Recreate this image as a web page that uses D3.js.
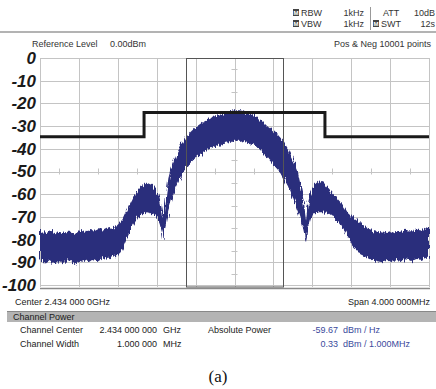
<!DOCTYPE html>
<html>
<head>
<meta charset="utf-8">
<script src="https://cdn.jsdelivr.net/npm/d3@7"></script>
<style>
  body { margin: 0; background: #fff; }
  svg { display: block; font-family: "Liberation Sans", Arial, sans-serif; }
</style>
</head>
<body>
<div id="chart"></div>
<script>
// data (frequency offset in MHz from 2.434 GHz, level in dBm)
const freqMHz = [-2.00, -1.95, -1.90, -1.85, -1.80, -1.75, -1.70, -1.65, -1.60, -1.55, -1.50, -1.45, -1.40, -1.35, -1.30, -1.25, -1.20, -1.15, -1.10, -1.05, -1.00, -0.95, -0.90, -0.85, -0.80, -0.77, -0.745, -0.732, -0.72, -0.70, -0.68, -0.65, -0.60, -0.55, -0.50, -0.45, -0.40, -0.35, -0.30, -0.25, -0.20, -0.15, -0.10, -0.05, 0.00, 0.05, 0.10, 0.15, 0.20, 0.25, 0.30, 0.35, 0.40, 0.45, 0.50, 0.55, 0.60, 0.65, 0.70, 0.72, 0.735, 0.75, 0.78, 0.82, 0.87, 0.92, 0.97, 1.02, 1.07, 1.12, 1.17, 1.22, 1.27, 1.32, 1.37, 1.42, 1.47, 1.52, 1.57, 1.62, 1.67, 1.72, 1.77, 1.82, 1.87, 1.92, 1.97, 2.00];
const upperDb = [-75.5, -77.0, -76.0, -77.5, -76.5, -77.0, -76.0, -77.5, -76.0, -76.5, -75.5, -76.0, -75.0, -75.5, -74.5, -75.0, -73.5, -71.0, -66.5, -62.0, -58.5, -56.5, -55.0, -56.0, -58.0, -61.5, -67.0, -71.0, -66.0, -59.0, -53.0, -48.0, -42.5, -38.5, -35.0, -32.5, -30.5, -29.0, -27.5, -26.5, -25.5, -25.0, -24.0, -23.5, -23.0, -23.0, -23.5, -24.5, -25.5, -27.0, -28.5, -30.5, -32.0, -34.0, -36.5, -40.0, -44.5, -50.0, -60.0, -66.0, -71.0, -65.0, -59.5, -56.0, -54.0, -55.0, -57.5, -60.0, -62.5, -65.0, -68.5, -70.5, -72.0, -73.5, -75.0, -76.0, -76.5, -77.0, -76.5, -77.0, -76.0, -76.5, -75.5, -76.5, -75.5, -76.0, -75.0, -75.5];
const lowerDb = [-88.5, -90.5, -89.0, -91.0, -89.5, -90.5, -89.0, -91.0, -90.0, -89.0, -90.0, -88.5, -89.5, -88.0, -88.5, -87.0, -87.5, -84.0, -79.0, -74.0, -70.5, -69.0, -68.0, -68.5, -70.0, -73.0, -77.0, -80.5, -76.0, -71.5, -67.5, -63.0, -56.5, -52.0, -48.5, -46.0, -44.0, -42.5, -41.0, -40.0, -39.0, -38.5, -37.5, -37.0, -36.5, -36.5, -37.0, -37.5, -38.5, -40.0, -42.0, -44.5, -47.0, -49.5, -52.5, -56.5, -62.0, -67.5, -74.0, -78.0, -81.0, -75.0, -70.5, -68.5, -68.0, -68.0, -68.5, -70.0, -72.5, -75.5, -79.0, -83.0, -85.5, -87.0, -88.0, -89.0, -89.5, -90.0, -89.0, -90.0, -89.0, -89.5, -88.5, -89.5, -88.5, -89.0, -88.0, -88.5];

// spectrum emission mask
const maskFreq = [-2, -0.93, -0.93, 0.93, 0.93, 2];
const maskDb = [-34.7, -34.7, -24, -24, -34.7, -34.7];

// channel (1 MHz wide)
const channelEdges = [-0.5, 0.5];

const yTicks = [0, -10, -20, -30, -40, -50, -60, -70, -80, -90, -100];
const xGrid = [-2, -1.6, -1.2, -0.8, -0.4, 0, 0.4, 0.8, 1.2, 1.6, 2];
const xMinor = [-1.8, -1.4, -1.0, -0.6, -0.2, 0.2, 0.6, 1.0, 1.4, 1.8];
const yMinor = [-5, -15, -25, -35, -45, -55, -65, -75, -85, -95];

const W = 436, H = 389;
const x = d3.scaleLinear().domain([-2, 2]).range([40, 429]);
const y = d3.scaleLinear().domain([0, -100]).range([58, 285]);

const svg = d3.select('#chart').append('svg').attr('width', W).attr('height', H);

// rough edge filter for the noisy trace
const defs = svg.append('defs');
const f = defs.append('filter').attr('id', 'rough')
  .attr('x', '-5%').attr('y', '-10%').attr('width', '110%').attr('height', '120%');
f.append('feTurbulence').attr('type', 'fractalNoise')
  .attr('baseFrequency', '0.9 0.08').attr('numOctaves', 2).attr('seed', 3).attr('result', 'n');
f.append('feDisplacementMap').attr('in', 'SourceGraphic').attr('in2', 'n')
  .attr('scale', 7).attr('xChannelSelector', 'B').attr('yChannelSelector', 'R');

// header
const hdr = svg.append('g').attr('font-size', 9).attr('fill', '#333');
function icon(px, py) {
  hdr.append('rect').attr('x', px).attr('y', py).attr('width', 6).attr('height', 7).attr('fill', '#444');
  hdr.append('text').attr('x', px + 3).attr('y', py + 6).attr('text-anchor', 'middle')
    .attr('font-size', 6).attr('font-weight', 'bold').attr('fill', '#fff').text('M');
}
icon(293, 9); icon(293, 20); icon(373, 20);
hdr.append('text').attr('x', 301).attr('y', 16).text('RBW');
hdr.append('text').attr('x', 301).attr('y', 27).text('VBW');
hdr.append('text').attr('x', 364).attr('y', 16).attr('text-anchor', 'end').text('1kHz');
hdr.append('text').attr('x', 364).attr('y', 27).attr('text-anchor', 'end').text('1kHz');
hdr.append('line').attr('x1', 370.5).attr('x2', 370.5).attr('y1', 7).attr('y2', 30).attr('stroke', '#999');
hdr.append('text').attr('x', 383).attr('y', 16).text('ATT');
hdr.append('text').attr('x', 381).attr('y', 27).text('SWT');
hdr.append('text').attr('x', 435).attr('y', 16).attr('text-anchor', 'end').text('10dB');
hdr.append('text').attr('x', 435).attr('y', 27).attr('text-anchor', 'end').text('12s');
svg.append('line').attr('x1', 0).attr('x2', W).attr('y1', 32).attr('y2', 32)
  .attr('stroke', '#9a9a9a').attr('stroke-width', 1.5);

const info = svg.append('g').attr('font-size', 9).attr('fill', '#333');
info.append('text').attr('x', 32).attr('y', 47).text('Reference Level');
info.append('text').attr('x', 110).attr('y', 47).text('0.00dBm');
info.append('text').attr('x', 431).attr('y', 47).attr('text-anchor', 'end').text('Pos & Neg  10001 points');

// grid
const grid = svg.append('g').attr('stroke', '#c4c4c4').attr('stroke-width', 1);
grid.selectAll('.v').data(xGrid).join('line')
  .attr('x1', d => Math.round(x(d)) + 0.5).attr('x2', d => Math.round(x(d)) + 0.5)
  .attr('y1', y(0)).attr('y2', y(-100) + 2);
grid.selectAll('.h').data(yTicks).join('line')
  .attr('x1', x(-2)).attr('x2', x(2))
  .attr('y1', d => Math.round(y(d)) + 0.5).attr('y2', d => Math.round(y(d)) + 0.5);
grid.selectAll('.mx').data(xMinor).join('line')
  .attr('x1', d => Math.round(x(d)) + 0.5).attr('x2', d => Math.round(x(d)) + 0.5)
  .attr('y1', y(-50) - 3).attr('y2', y(-50) + 3);
grid.selectAll('.my').data(yMinor).join('line')
  .attr('x1', x(0) - 3).attr('x2', x(0) + 3)
  .attr('y1', d => Math.round(y(d)) + 0.5).attr('y2', d => Math.round(y(d)) + 0.5);

// bottom axis line
svg.append('line').attr('x1', x(-2)).attr('x2', x(2) + 1).attr('y1', 288.5).attr('y2', 288.5)
  .attr('stroke', '#8a8a8a').attr('stroke-width', 1.5);

// y axis labels
const yAxis = svg.append('g').attr('transform', 'translate(36,0)')
  .call(d3.axisLeft(y).tickValues(yTicks).tickSize(0).tickPadding(0).tickFormat(d => d));
yAxis.select('.domain').remove();
yAxis.selectAll('text').attr('font-size', 17).attr('font-weight', 'bold')
  .attr('font-style', 'italic').attr('fill', '#1a1a1a')
  .attr('font-family', '"Liberation Sans", Arial, sans-serif');

// spectrum trace
const pts = freqMHz.map((fq, i) => ({ f: fq, hi: upperDb[i], lo: lowerDb[i] }));
svg.append('path').datum(pts)
  .attr('d', d3.area().x(d => x(d.f)).y0(d => y(d.lo)).y1(d => y(d.hi)))
  .attr('fill', '#2c2e7c').attr('filter', 'url(#rough)');

// channel box
svg.append('rect')
  .attr('x', Math.round(x(channelEdges[0])) + 0.5).attr('y', y(0) + 0.5)
  .attr('width', Math.round(x(channelEdges[1]) - x(channelEdges[0])))
  .attr('height', y(-100) - y(0) + 1.5)
  .attr('fill', 'none').attr('stroke', '#555').attr('stroke-width', 1);

// mask
svg.append('path').datum(maskFreq.map((fq, i) => [fq, maskDb[i]]))
  .attr('d', d3.line().x(d => x(d[0])).y(d => y(d[1])))
  .attr('fill', 'none').attr('stroke', '#1a1a1a').attr('stroke-width', 3);

// footer
svg.append('rect').attr('x', 7).attr('y', 311).attr('width', W - 7).attr('height', 11).attr('fill', '#b4b4b4');
svg.append('line').attr('x1', 7).attr('x2', W).attr('y1', 311.5).attr('y2', 311.5).attr('stroke', '#888');
const ft = svg.append('g').attr('font-size', 9).attr('fill', '#222');
ft.append('text').attr('x', 15).attr('y', 305).text('Center 2.434 000 0GHz');
ft.append('text').attr('x', 430).attr('y', 305).attr('text-anchor', 'end').text('Span 4.000 000MHz');
ft.append('text').attr('x', 13).attr('y', 320).attr('fill', '#1a1a1a').text('Channel Power');

const rows = [
  ['Channel Center', '2.434 000 000', 'GHz', 'Absolute Power', '-59.67', 'dBm / Hz'],
  ['Channel Width', '1.000 000', 'MHz', '', '0.33', 'dBm / 1.000MHz']
];
rows.forEach((r, i) => {
  const yy = 333 + i * 14;
  ft.append('text').attr('x', 20).attr('y', yy).text(r[0]);
  ft.append('text').attr('x', 157).attr('y', yy).attr('text-anchor', 'end').text(r[1]);
  ft.append('text').attr('x', 163).attr('y', yy).text(r[2]);
  ft.append('text').attr('x', 208).attr('y', yy).text(r[3]);
  ft.append('text').attr('x', 338).attr('y', yy).attr('text-anchor', 'end').attr('fill', '#3b4a9c').text(r[4]);
  ft.append('text').attr('x', 343).attr('y', yy).attr('fill', '#3b4a9c').text(r[5]);
});

svg.append('text').attr('x', 218).attr('y', 382).attr('text-anchor', 'middle')
  .attr('font-family', '"Liberation Serif", "Times New Roman", serif').attr('font-size', 17)
  .attr('fill', '#111').text('(a)');
</script>
</body>
</html>
